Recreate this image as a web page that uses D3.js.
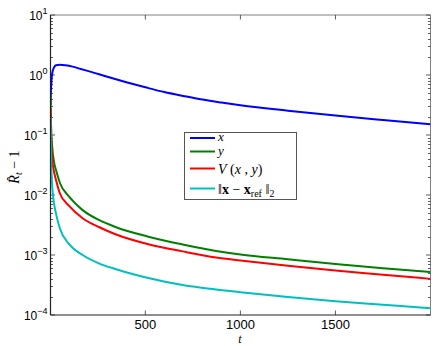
<!DOCTYPE html>
<html>
<head>
<meta charset="utf-8">
<script src="https://cdn.jsdelivr.net/npm/d3@7"></script>
<style>
  body { margin: 0; background: #fff; }
  svg { display: block; }
  .tick-label { font-family: "Liberation Sans", Arial, sans-serif; fill: #000; }
  .math { font-family: "Liberation Serif", "DejaVu Serif", serif; fill: #000; }
</style>
</head>
<body>
<div id="chart"></div>
<script>
// values
const tBlue = [1, 3, 6, 10, 20, 30, 50, 80, 117, 160, 205, 300, 400, 500, 600, 700, 800, 900, 1000, 1250, 1500, 1750, 2000];
const xValues = [0.316, 0.501, 0.794, 1.07, 1.35, 1.45, 1.48, 1.45, 1.38, 1.26, 1.15, 0.933, 0.759, 0.624, 0.519, 0.447, 0.389, 0.347, 0.313, 0.254, 0.211, 0.178, 0.151];

const tOther = [1, 3, 6, 10, 20, 30, 50, 100, 170, 258, 346, 521, 696, 872, 1000, 1250, 1500, 1750, 2000];
const yValues = [0.5, 0.2, 0.1, 0.063, 0.035, 0.026, 0.016, 0.0093, 0.0056, 0.0038, 0.0029, 0.002, 0.0015, 0.00117, 0.00102, 0.00085, 0.00071, 0.0006, 0.00052];
const vValues = [0.28, 0.126, 0.063, 0.04, 0.024, 0.0178, 0.0107, 0.0065, 0.0041, 0.0029, 0.0022, 0.0015, 0.00115, 0.00091, 0.00081, 0.00066, 0.00055, 0.00047, 0.0004];
const normValues = [0.2, 0.063, 0.025, 0.014, 0.0071, 0.0049, 0.0028, 0.0015, 0.001, 0.00072, 0.00058, 0.00041, 0.000316, 0.000266, 0.00024, 0.0002, 0.00017, 0.000148, 0.000129];

const xTicks = [500, 1000, 1500];
const yDecades = [1e-4, 1e-3, 1e-2, 1e-1, 1e0, 1e1];
const yExponents = ["\u22124", "\u22123", "\u22122", "\u22121", "0", "1"];

const series = [
  {key: "x", t: tBlue, v: xValues, color: "#0000ff"},
  {key: "y", t: tOther, v: yValues, color: "#008000"},
  {key: "V", t: tOther, v: vValues, color: "#ff0000"},
  {key: "norm", t: tOther, v: normValues, color: "#00bfbf"}
];

const width = 436, height = 346;
const margin = {top: 15, right: 5.5, bottom: 31, left: 50.5};
const innerW = width - margin.left - margin.right;
const innerH = height - margin.top - margin.bottom;

const svg = d3.select("#chart").append("svg")
  .attr("width", width)
  .attr("height", height);

const chart = svg.append("g")
  .attr("transform", `translate(${margin.left},${margin.top})`);

const xScale = d3.scaleLinear().domain([1, 2000]).range([0, innerW]);
const yScale = d3.scaleLog().domain([1e-4, 1e1]).range([innerH, 0]);

// clip lines to the axes box
chart.append("clipPath").attr("id", "clip")
  .append("rect").attr("width", innerW).attr("height", innerH);

// frame: top and right in grey, left and bottom dark
chart.append("line").attr("x1", 0).attr("x2", innerW).attr("y1", 0).attr("y2", 0)
  .attr("stroke", "#808080").attr("stroke-width", 1);
chart.append("line").attr("x1", innerW).attr("x2", innerW).attr("y1", 0).attr("y2", innerH)
  .attr("stroke", "#808080").attr("stroke-width", 1);

// minor log ticks (2..9 per decade), inside on both sides
const minorTicks = [];
for (let e = -4; e < 1; e++) {
  for (let m = 2; m <= 9; m++) minorTicks.push(m * Math.pow(10, e));
}

const tickG = chart.append("g").attr("stroke", "#333").attr("stroke-width", 0.8);
minorTicks.forEach(v => {
  const y = Math.round(yScale(v)) + 0.5;
  tickG.append("line").attr("x1", 0).attr("x2", 2.5).attr("y1", y).attr("y2", y);
  tickG.append("line").attr("x1", innerW).attr("x2", innerW - 2.5).attr("y1", y).attr("y2", y);
});
yDecades.forEach(v => {
  const y = yScale(v);
  tickG.append("line").attr("x1", 0).attr("x2", 4.5).attr("y1", y).attr("y2", y);
  tickG.append("line").attr("x1", innerW).attr("x2", innerW - 4.5).attr("y1", y).attr("y2", y);
});
xTicks.forEach(v => {
  const x = xScale(v);
  tickG.append("line").attr("x1", x).attr("x2", x).attr("y1", innerH).attr("y2", innerH - 4.5);
  tickG.append("line").attr("x1", x).attr("x2", x).attr("y1", 0).attr("y2", 4.5);
});

// lines
const line = d3.line()
  .x(d => xScale(d[0]))
  .y(d => yScale(d[1]))
  .curve(d3.curveMonotoneX);

chart.append("g").attr("clip-path", "url(#clip)")
  .selectAll("path")
  .data(series)
  .join("path")
  .attr("d", s => line(s.t.map((t, i) => [t, s.v[i]])))
  .attr("fill", "none")
  .attr("stroke", s => s.color)
  .attr("stroke-width", 2)
  .attr("stroke-linejoin", "round");

// left and bottom axes lines on top
chart.append("line").attr("x1", 0).attr("x2", 0).attr("y1", 0).attr("y2", innerH)
  .attr("stroke", "#222").attr("stroke-width", 1.2);
chart.append("line").attr("x1", 0).attr("x2", innerW).attr("y1", innerH).attr("y2", innerH)
  .attr("stroke", "#222").attr("stroke-width", 1.2);

// y tick labels 10^n
yDecades.forEach((v, i) => {
  const y = yScale(v);
  const txt = chart.append("text")
    .attr("class", "tick-label")
    .attr("text-anchor", "end")
    .attr("x", -3)
    .attr("y", y + 5)
    .style("font-size", "12px");
  txt.append("tspan").text("10");
  txt.append("tspan")
    .attr("dy", -6)
    .style("font-size", "9px")
    .text(yExponents[i]);
});

// x tick labels
xTicks.forEach(v => {
  chart.append("text")
    .attr("class", "tick-label")
    .attr("text-anchor", "middle")
    .attr("x", xScale(v))
    .attr("y", innerH + 13.5)
    .style("font-size", "13px")
    .text(v);
});

// axis labels
svg.append("text")
  .attr("class", "math")
  .attr("text-anchor", "middle")
  .attr("x", 240)
  .attr("y", 342.5)
  .style("font-size", "12px")
  .style("font-style", "italic")
  .text("t");

const yLab = svg.append("text")
  .attr("class", "math")
  .attr("text-anchor", "middle")
  .attr("transform", "translate(19,167) rotate(-90)")
  .style("font-size", "14px");
yLab.append("tspan").style("font-style", "italic").text("R\u0302");
yLab.append("tspan").attr("dy", 3).style("font-size", "10px").style("font-style", "italic").text("t");
yLab.append("tspan").attr("dy", -3).text(" \u2212 1");

// legend
const legend = svg.append("g").attr("transform", "translate(184,132)");
legend.append("rect")
  .attr("x", 0.5).attr("y", 0.5)
  .attr("width", 112).attr("height", 67)
  .attr("fill", "#fff")
  .attr("stroke", "#555")
  .attr("stroke-width", 1);

const rowY = [6, 19.5, 36.5, 56.5];
series.forEach((s, i) => {
  legend.append("line")
    .attr("x1", 6).attr("x2", 31)
    .attr("y1", rowY[i]).attr("y2", rowY[i])
    .attr("stroke", s.color).attr("stroke-width", 2);
});

const lx = 34;
legend.append("text").attr("class", "math").attr("x", lx).attr("y", rowY[0] + 3)
  .style("font-size", "13px").style("font-style", "italic").text("x");
legend.append("text").attr("class", "math").attr("x", lx).attr("y", rowY[1] + 3)
  .style("font-size", "13px").style("font-style", "italic").text("y");

const vText = legend.append("text").attr("class", "math").attr("x", lx).attr("y", rowY[2] + 5)
  .style("font-size", "14px");
vText.append("tspan").style("font-style", "italic").text("V");
vText.append("tspan").text(" (");
vText.append("tspan").style("font-style", "italic").text("x");
vText.append("tspan").text(" , ");
vText.append("tspan").style("font-style", "italic").text("y");
vText.append("tspan").text(")");

const nText = legend.append("text").attr("class", "math").attr("x", lx).attr("y", rowY[3] + 5)
  .style("font-size", "14px");
nText.append("tspan").text("\u2016");
nText.append("tspan").style("font-weight", "bold").text("x");
nText.append("tspan").text(" \u2212 ");
nText.append("tspan").style("font-weight", "bold").text("x");
nText.append("tspan").attr("dy", 3).style("font-size", "10px").text("ref");
nText.append("tspan").attr("dy", -3).text(" \u2016");
nText.append("tspan").attr("dy", 3).style("font-size", "10px").text("2");
</script>
</body>
</html>
